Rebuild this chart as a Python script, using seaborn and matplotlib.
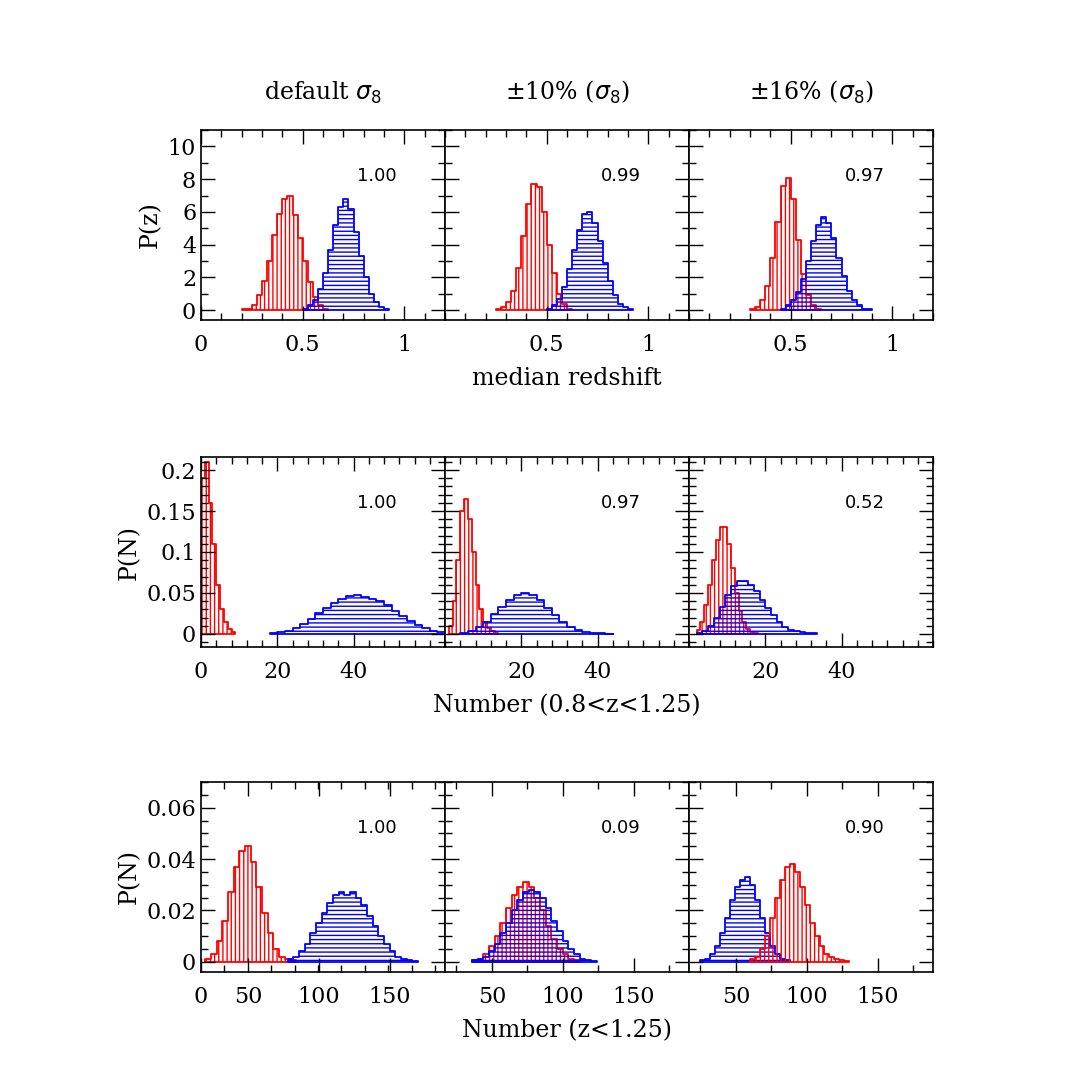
import numpy as np
import pandas as pd
import seaborn as sns
import matplotlib
matplotlib.use("Agg")
import matplotlib.pyplot as plt
from matplotlib.ticker import AutoMinorLocator

plt.rcParams["font.family"] = "DejaVu Serif"
plt.rcParams["hatch.linewidth"] = 1.0

col_titles = [r"default $\sigma_8$", r"$\pm$10% ($\sigma_8$)", r"$\pm$16% ($\sigma_8$)"]
row_ylabels = ["P(z)", "P(N)", "P(N)"]
row_xlabels = ["median redshift", "Number (0.8<z<1.25)", "Number (z<1.25)"]
scores = [["1.00", "0.99", "0.97"], ["1.00", "0.97", "0.52"], ["1.00", "0.09", "0.90"]]

# (start, bin width, heights) for red and blue histograms per panel
red = [
    [(0.2, 0.025, [0.05,0.1,0.3,0.9,1.8,3.0,4.6,5.9,6.8,7.0,5.8,4.4,3.0,1.7,0.8,0.3,0.1]),
     (0.25, 0.025, [0.05,0.2,0.5,1.2,2.6,4.5,6.5,7.7,7.5,6.0,4.0,2.3,1.0,0.4,0.1]),
     (0.3, 0.025, [0.05,0.2,0.6,1.5,3.2,5.4,7.6,8.1,6.8,4.3,2.2,0.9,0.3,0.1])],
    [(0, 1, [0.19,0.21,0.16,0.11,0.06,0.03,0.015,0.006,0.002]),
     (1, 1, [0.01,0.04,0.09,0.15,0.165,0.14,0.10,0.06,0.03,0.015,0.007,0.003,0.001]),
     (2, 1, [0.005,0.015,0.035,0.06,0.09,0.115,0.13,0.13,0.11,0.08,0.05,0.028,0.014,0.006,0.002,0.001])],
    [(20, 4, [0.001,0.003,0.008,0.016,0.027,0.037,0.043,0.045,0.039,0.029,0.019,0.011,0.005,0.002,0.001,0.0005]),
     (36, 4, [0.0005,0.001,0.003,0.006,0.010,0.015,0.021,0.026,0.029,0.031,0.029,0.025,0.020,0.014,0.009,0.005,0.003,0.001,0.0005]),
     (60, 3.5, [0.001,0.002,0.005,0.010,0.017,0.025,0.032,0.037,0.038,0.035,0.029,0.022,0.015,0.010,0.006,0.003,0.002,0.001,0.0005,0.0003])],
]
blue = [
    [(0.5, 0.025, [0.1,0.3,0.6,1.3,2.3,3.7,5.2,6.3,6.8,6.2,4.8,3.3,2.0,1.0,0.5,0.2,0.1]),
     (0.5, 0.025, [0.1,0.3,0.7,1.4,2.5,3.7,4.9,5.9,6.0,5.3,4.2,2.9,1.8,0.9,0.4,0.2,0.1]),
     (0.45, 0.025, [0.1,0.3,0.6,1.1,1.9,3.0,4.2,5.2,5.7,5.3,4.4,3.2,2.1,1.2,0.6,0.3,0.1,0.05])],
    [(18, 2, [0.001,0.002,0.004,0.007,0.012,0.018,0.025,0.032,0.038,0.043,0.046,0.047,0.045,0.043,0.040,0.035,0.028,0.022,0.016,0.011,0.007,0.004,0.002]),
     (4, 2, [0.001,0.003,0.008,0.015,0.024,0.033,0.042,0.048,0.050,0.047,0.041,0.032,0.023,0.015,0.009,0.005,0.002,0.001,0.0005,0.0003]),
     (2, 1.5, [0.001,0.004,0.01,0.02,0.033,0.047,0.058,0.064,0.065,0.060,0.052,0.042,0.032,0.023,0.015,0.009,0.005,0.003,0.002,0.001,0.0005])],
    [(78, 4, [0.001,0.002,0.004,0.007,0.011,0.015,0.019,0.023,0.026,0.027,0.026,0.027,0.025,0.022,0.018,0.014,0.010,0.007,0.004,0.002,0.001,0.0005,0.0003]),
     (36, 4, [0.0005,0.001,0.002,0.004,0.007,0.011,0.015,0.020,0.024,0.027,0.028,0.027,0.025,0.021,0.016,0.012,0.008,0.005,0.003,0.001,0.0008,0.0004]),
     (25, 3.5, [0.0005,0.001,0.003,0.006,0.011,0.017,0.024,0.029,0.032,0.033,0.030,0.024,0.017,0.011,0.006,0.003,0.001,0.0005])],
]

xlims = [(0, 1.2), (0, 64), (17, 189)]
ylims = [(-0.6, 11), (-0.016, 0.216), (-0.004, 0.07)]
xticks = [[0, 0.5, 1], [0, 20, 40], [17, 50, 100, 150]]
xticklabels = [["0", "0.5", "1"], ["0", "20", "40"], ["0", "50", "100", "150"]]
yticks = [[0, 2, 4, 6, 8, 10], [0, 0.05, 0.1, 0.15, 0.2], [0, 0.02, 0.04, 0.06]]
yticklabels = [["0", "2", "4", "6", "8", "10"], ["0", "0.05", "0.1", "0.15", "0.2"], ["0", "0.02", "0.04", "0.06"]]

fig = plt.figure(figsize=(10.9, 10.9), dpi=100)
lefts = [201, 445, 689]
tops = [130, 457, 782]
W, H = 244, 190


def draw(ax, spec, color, hatch):
    start, w, vals = spec
    n = len(vals)
    centers = start + w * (np.arange(n) + 0.5)
    df = pd.DataFrame({"x": centers, "w": vals})
    sns.histplot(data=df, x="x", weights="w", binwidth=w,
                 binrange=(start, start + w * n), element="step", fill=True,
                 color=color, hatch=hatch, linewidth=1.3, ax=ax, stat="count")
    coll = ax.collections[-1]
    coll.set_facecolor("none")
    coll.set_edgecolor(color)


for r in range(3):
    for c in range(3):
        ax = fig.add_axes([lefts[c] / 1090, 1 - (tops[r] + H) / 1090, W / 1090, H / 1090])
        if r == 2 and c == 2:
            draw(ax, blue[r][c], "blue", "----")
            draw(ax, red[r][c], "red", "||||")
        else:
            draw(ax, red[r][c], "red", "||||")
            draw(ax, blue[r][c], "blue", "----")
        ax.set_xlim(*xlims[r])
        ax.set_ylim(*ylims[r])
        ax.set_xlabel("")
        ax.set_ylabel("")
        if c == 0:
            ax.set_xticks(xticks[r])
            ax.set_xticklabels(xticklabels[r])
            ax.set_yticks(yticks[r])
            ax.set_yticklabels(yticklabels[r])
            ax.set_ylabel(row_ylabels[r], fontsize=17)
        else:
            ax.set_xticks(xticks[r][1:])
            ax.set_xticklabels(xticklabels[r][1:])
            ax.set_yticks(yticks[r])
            ax.set_yticklabels([])
        ax.xaxis.set_minor_locator(AutoMinorLocator(5 if r != 2 else 2))
        ax.yaxis.set_minor_locator(AutoMinorLocator(2 if r == 0 else 5 if r == 1 else 4))
        ax.tick_params(which="both", direction="in", top=True, right=True, labelsize=16)
        ax.tick_params(which="major", length=10, width=1)
        ax.tick_params(which="minor", length=5, width=1)
        ax.tick_params(axis="x", pad=10)
        for s in ax.spines.values():
            s.set_linewidth(1.2)
        ax.text(0.72, 0.73, scores[r][c], transform=ax.transAxes, fontsize=13,
                family="DejaVu Sans", ha="center")
        if r == 0:
            ax.set_title(col_titles[c], fontsize=17, pad=22)
        if c == 1:
            ax.set_xlabel(row_xlabels[r], fontsize=17, labelpad=8)

fig.savefig("out.png", dpi=100)
